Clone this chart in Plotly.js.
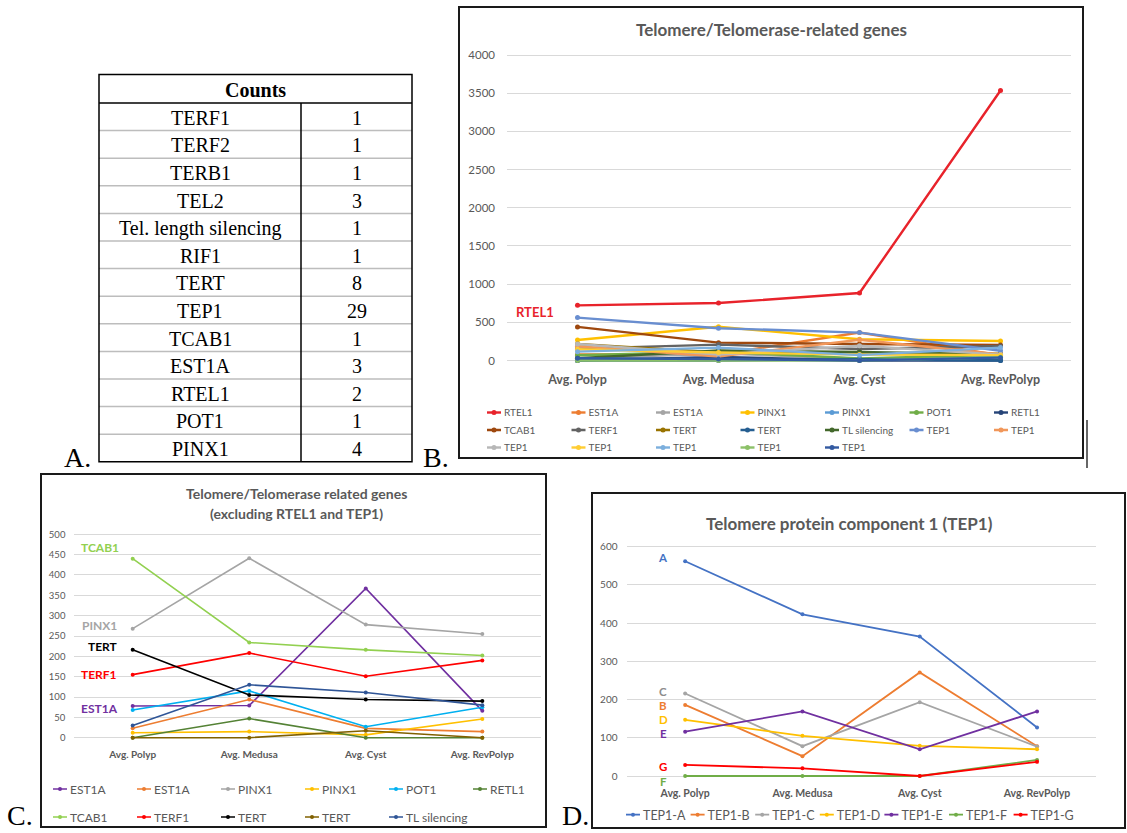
<!DOCTYPE html>
<html>
<head>
<meta charset="utf-8">
<script src="https://cdn.plot.ly/plotly-3.0.1.min.js"></script>
<style>
html,body{margin:0;padding:0;background:#fff;}
#fig{width:1127px;height:833px;}
</style>
</head>
<body>
<div id="fig"></div>
<script>
// ---------------- data ----------------
const stages = ['Avg. Polyp', 'Avg. Medusa', 'Avg. Cyst', 'Avg. RevPolyp'];

// Panel A table
const tableGenes = ['TERF1', 'TERF2', 'TERB1', 'TEL2', 'Tel. length silencing', 'RIF1', 'TERT', 'TEP1', 'TCAB1', 'EST1A', 'RTEL1', 'POT1', 'PINX1'];
const tableCounts = [1, 1, 1, 3, 1, 1, 8, 29, 1, 3, 2, 1, 4];

// Series values (Polyp, Medusa, Cyst, RevPolyp)
const rtel1 = [722, 752, 883, 3535];
const est1a_1 = [78, 79, 367, 66];
const est1a_2 = [23, 94, 23, 15];
const pinx1_1 = [268, 441, 278, 255];
const pinx1_2 = [12, 15, 7, 46];
const pot1 = [68, 115, 27, 75];
const retl1 = [0, 47, 0, 0];
const tcab1 = [440, 234, 216, 202];
const terf1 = [155, 208, 151, 190];
const tert_1 = [216, 105, 94, 90];
const tert_2 = [0, 0, 17, 0];
const tlSilencing = [30, 130, 111, 80];
const tep1A = [562, 423, 365, 127];
const tep1B = [186, 52, 271, 78];
const tep1C = [216, 78, 193, 77];
const tep1D = [147, 105, 79, 70];
const tep1E = [116, 169, 70, 169];
const tep1F = [0, 0, 0, 42];
const tep1G = [29, 20, 0, 37];

// Panel B
const bNames = ['RTEL1', 'EST1A', 'EST1A', 'PINX1', 'PINX1', 'POT1', 'RETL1', 'TCAB1', 'TERF1', 'TERT', 'TERT', 'TL silencing', 'TEP1', 'TEP1', 'TEP1', 'TEP1', 'TEP1', 'TEP1', 'TEP1'];
const bValues = [rtel1, est1a_1, est1a_2, pinx1_1, pinx1_2, pot1, retl1, tcab1, terf1, tert_1, tert_2, tlSilencing, tep1A, tep1B, tep1C, tep1D, tep1E, tep1F, tep1G];
const bColors = ['#E8232B', '#ED7D31', '#A5A5A5', '#FFC000', '#5B9BD5', '#70AD47', '#264478', '#9E480E', '#636363', '#997300', '#255E91', '#43682B', '#698ED0', '#F1975A', '#B7B7B7', '#FFCD33', '#7CAFDD', '#8CC168', '#335AA1'];

// Panel C
const cNames = ['EST1A', 'EST1A', 'PINX1', 'PINX1', 'POT1', 'RETL1', 'TCAB1', 'TERF1', 'TERT', 'TERT', 'TL silencing'];
const cValues = [est1a_1, est1a_2, pinx1_1, pinx1_2, pot1, retl1, tcab1, terf1, tert_1, tert_2, tlSilencing];
const cColors = ['#7030A0', '#ED7D31', '#A5A5A5', '#FFC000', '#00B0F0', '#548235', '#92D050', '#FF0000', '#000000', '#806000', '#2F5597'];

// Panel D
const dNames = ['TEP1-A', 'TEP1-B', 'TEP1-C', 'TEP1-D', 'TEP1-E', 'TEP1-F', 'TEP1-G'];
const dValues = [tep1A, tep1B, tep1C, tep1D, tep1E, tep1F, tep1G];
const dColors = ['#4472C4', '#ED7D31', '#A5A5A5', '#FFC000', '#7030A0', '#70AD47', '#FF0000'];

// ---------------- layout helpers ----------------
const W = 1127, H = 833;
const xp = x => x / W;
const yp = y => 1 - y / H;
const FONT = 'Lato, "Open Sans", sans-serif';
const SERIF = '"Liberation Serif", "DejaVu Serif", serif';
const GREY = '#595959';

function yAx(pix0, pixTop, vTop, dtick, anchor, size, standoff) {
  const k = (pix0 - pixTop) / vTop;
  const padPx = 3;
  return {
    domain: [yp(pix0 + padPx), yp(pixTop - padPx)],
    range: [-padPx / k, vTop + padPx / k],
    dtick: dtick, tick0: 0, anchor: anchor,
    showgrid: true, gridcolor: '#D9D9D9', gridwidth: 1,
    zeroline: false, showline: false, ticks: '',
    tickfont: {family: FONT, size: size, color: GREY},
    ticklabelstandoff: standoff, fixedrange: true
  };
}
function xAx(x0, x1, anchor, size, standoff) {
  return {
    domain: [xp(x0), xp(x1)], type: 'category', range: [-0.5, 3.5], anchor: anchor,
    showgrid: false, zeroline: false, showline: false, ticks: '',
    tickfont: {family: FONT, size: size, color: GREY, weight: 'bold'},
    ticklabelstandoff: standoff, fixedrange: true
  };
}
function leg(textX, yc, size, spacing) {
  return {
    orientation: 'h', x: xp(textX - 40), y: yp(yc), xanchor: 'left', yanchor: 'middle',
    entrywidth: spacing - 45, entrywidthmode: 'pixels', itemwidth: 30,
    font: {family: FONT, size: size, color: GREY},
    bgcolor: 'rgba(0,0,0,0)', borderwidth: 0, traceorder: 'normal'
  };
}
function ann(text, x, y, size, color, extra) {
  return Object.assign({
    text: text, x: xp(x), y: yp(y), xref: 'paper', yref: 'paper',
    showarrow: false, xanchor: 'center', yanchor: 'middle',
    font: {family: FONT, size: size, color: color}
  }, extra || {});
}
function rect(x0, y0, x1, y1, color, width) {
  return {type: 'rect', xref: 'paper', yref: 'paper', x0: xp(x0), x1: xp(x1), y0: yp(y1), y1: yp(y0),
          line: {color: color, width: width}, fillcolor: 'rgba(0,0,0,0)', layer: 'above'};
}
function seg(x0, y0, x1, y1, color, width) {
  return {type: 'line', xref: 'paper', yref: 'paper', x0: xp(x0), x1: xp(x1), y0: yp(y0), y1: yp(y1),
          line: {color: color, width: width}, layer: 'above'};
}

// ---------------- traces ----------------
const traces = [];
bValues.forEach((v, i) => {
  traces.push({
    type: 'scatter', mode: 'lines+markers', x: stages, y: v, name: bNames[i],
    xaxis: 'x', yaxis: 'y', legend: i < 7 ? 'legend' : (i < 14 ? 'legend2' : 'legend3'),
    line: {color: bColors[i], width: 2.4}, marker: {color: bColors[i], size: 5},
    hoverinfo: 'skip'
  });
});
cValues.forEach((v, i) => {
  const t = {
    type: 'scatter', mode: 'lines+markers', x: stages, y: v, name: cNames[i],
    xaxis: 'x2', yaxis: 'y2', legend: i < 6 ? 'legend4' : 'legend5',
    line: {color: cColors[i], width: 1.6}, marker: {color: cColors[i], size: 4},
    hoverinfo: 'skip'
  };
  if (i === cValues.length - 1) t.legendwidth = 80;
  traces.push(t);
});
dValues.forEach((v, i) => {
  const t = {
    type: 'scatter', mode: 'lines+markers', x: stages, y: v, name: dNames[i],
    xaxis: 'x3', yaxis: 'y3', legend: 'legend6',
    line: {color: dColors[i], width: 1.8}, marker: {color: dColors[i], size: 4},
    hoverinfo: 'skip'
  };
  if (i === dValues.length - 1) t.legendwidth = 50;
  traces.push(t);
});

// ---------------- annotations & shapes ----------------
const annotations = [];
const shapes = [];

// Panel A table (text cells from arrays)
const tLeft = 99, tRight = 412, tTop = 74.5, tHead = 103, tDiv = 301, rowH = 27.6;
const tBottom = tHead + rowH * tableGenes.length;
const serifCell = {family: SERIF, size: 20, color: '#000'};
annotations.push(ann('<b>Counts</b>', (tLeft + tRight) / 2, 89.5, 20, '#000', {font: serifCell}));
tableGenes.forEach((g, i) => {
  const yc = tHead + (i + 0.5) * rowH + 1;
  annotations.push(ann(g, (tLeft + tDiv) / 2, yc, 20, '#000', {font: serifCell}));
  annotations.push(ann(String(tableCounts[i]), (tDiv + tRight) / 2, yc, 20, '#000', {font: serifCell}));
  if (i > 0) shapes.push(seg(tLeft, tHead + i * rowH, tRight, tHead + i * rowH, '#BDBDBD', 1.5));
});
shapes.push(seg(tLeft, tHead, tRight, tHead, '#000', 1.5));
shapes.push(seg(tDiv, tHead, tDiv, tBottom, '#000', 1.5));
shapes.push(rect(tLeft, tTop, tRight, tBottom, '#000', 1.5));

// Panel letters
const serifBig = {family: SERIF, size: 28, color: '#000'};
annotations.push(ann('A.', 77, 457, 28, '#000', {font: serifBig}));
annotations.push(ann('B.', 436, 457, 28, '#000', {font: serifBig}));
annotations.push(ann('C.', 20, 833, 28, '#000', {font: serifBig, yanchor: 'bottom'}));
annotations.push(ann('D.', 575, 833, 28, '#000', {font: serifBig, yanchor: 'bottom'}));

// Panel boxes
shapes.push(rect(459, 7, 1083, 458, '#1a1a1a', 2));
shapes.push(seg(1087, 420, 1087, 468, '#000', 1.2));
shapes.push(rect(41, 474, 546, 827, '#1a1a1a', 2));
shapes.push(rect(592, 493, 1125, 828, '#1a1a1a', 2));

// Titles
const bold = (s, c) => ({family: FONT, size: s, color: c, weight: 'bold'});
annotations.push(ann('Telomere/Telomerase-related genes', 771, 29, 17, GREY, {font: bold(17, GREY)}));
annotations.push(ann('Telomere/Telomerase related genes', 296, 493, 14, GREY, {font: bold(14, GREY)}));
annotations.push(ann('(excluding RTEL1 and TEP1)', 296, 513, 14, GREY, {font: bold(14, GREY)}));
annotations.push(ann('Telomere protein component 1 (TEP1)', 849, 523, 17, GREY, {font: bold(17, GREY)}));

// Series labels
annotations.push(ann('RTEL1', 535, 312, 13, '#E8232B', {font: bold(13, '#E8232B')}));
const cLab = [['TCAB1', 100, 547, '#92D050'], ['PINX1', 99, 625, '#A5A5A5'], ['TERT', 103, 646, '#000000'], ['TERF1', 99, 674, '#FF0000'], ['EST1A', 99, 708, '#7030A0']];
cLab.forEach(l => annotations.push(ann(l[0], l[1], l[2], 12, l[3], {font: bold(12, l[3])})));
const dLab = [['A', 663, 557, '#4472C4'], ['C', 663, 691, '#8C8C8C'], ['B', 663, 705, '#ED7D31'], ['D', 663, 719, '#FFC000'], ['E', 663, 733, '#7030A0'], ['G', 663, 766, '#FF0000'], ['F', 663, 781, '#70AD47']];
dLab.forEach(l => annotations.push(ann(l[0], l[1], l[2], 11.5, l[3], {font: bold(11.5, l[3]), borderpad: 0})));

// ---------------- layout ----------------
const layout = {
  width: W, height: H,
  margin: {l: 0, r: 0, t: 0, b: 0, pad: 0},
  paper_bgcolor: '#ffffff', plot_bgcolor: 'rgba(0,0,0,0)',
  showlegend: true, hovermode: false,
  xaxis: xAx(507, 1071, 'y', 12.5, 7),
  yaxis: yAx(360.5, 55, 4000, 500, 'x', 11.5, 11),
  xaxis2: xAx(74.4, 540.6, 'y2', 10, 6),
  yaxis2: yAx(737.7, 534.3, 500, 50, 'x2', 9.5, 8),
  xaxis3: xAx(626.5, 1095.7, 'y3', 10.5, 6),
  yaxis3: yAx(776, 546.7, 600, 100, 'x3', 10, 8),
  legend: leg(504, 412.5, 10, 84.5),
  legend2: leg(504, 430, 10, 84.5),
  legend3: leg(504, 447.5, 10, 84.5),
  legend4: leg(70, 789, 12, 84),
  legend5: leg(70, 817, 12, 84),
  legend6: leg(643, 815, 12.5, 64.6),
  annotations: annotations,
  shapes: shapes
};

Plotly.newPlot('fig', traces, layout, {staticPlot: true, displayModeBar: false}).then(gd => {
  // shorter legend keys, as in the reference (line key just before the text)
  gd.querySelectorAll('.legendlines path').forEach(p => p.setAttribute('d', 'M23,0h14'));
  gd.querySelectorAll('.legendpoints path').forEach(p => p.setAttribute('transform', 'translate(30,0)'));
});
</script>
</body>
</html>
